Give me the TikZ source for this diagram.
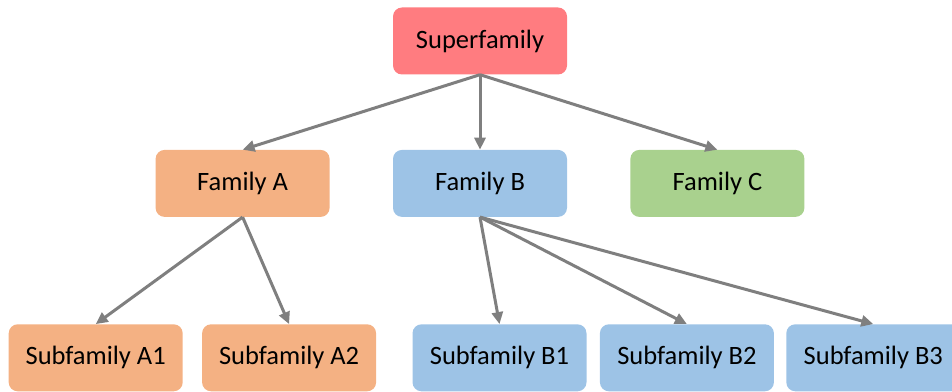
\documentclass[tikz,border=0pt]{standalone}
\usepackage{fontspec}
\setmainfont{Carlito}
\definecolor{mypink}{HTML}{FF7C80}
\definecolor{myorange}{HTML}{F4B183}
\definecolor{myblue}{HTML}{9DC3E6}
\definecolor{mygreen}{HTML}{A9D18E}
\definecolor{mygray}{HTML}{7F7F7F}
\usetikzlibrary{positioning,arrows.meta}

\begin{document}
\begin{tikzpicture}[x=1pt,y=1pt,
    every node/.style={rounded corners=9pt,minimum width=174pt,minimum height=67pt,
      inner sep=0pt,font=\fontsize{26.5}{30}\selectfont},
    supnode/.style={fill=mypink},
    anode/.style={fill=myorange},
    bnode/.style={fill=myblue},
    cnode/.style={fill=mygreen},
    arr/.style={draw=mygray,line width=3pt,-{Triangle[length=12pt,width=11pt]}}
    ]
    \useasboundingbox (0,0) rectangle (952,391);

    \node (sf) [supnode] at (480,350) {Superfamily};
    \node (fb) [bnode,below=75pt of sf] {Family B};
    \node (fa) [anode,left=63pt of fb] {Family A};
    \node (fc) [cnode,right=63pt of fb] {Family C};
    \node (sb1) [bnode,below=107pt of fb,xshift=19.5pt] {Subfamily B1};
    \node (sa2) [anode,left=36pt of sb1] {Subfamily A2};
    \node (sa1) [anode,left=19pt of sa2] {Subfamily A1};
    \node (sb2) [bnode,right=13pt of sb1] {Subfamily B2};
    \node (sb3) [bnode,right=12pt of sb2] {Subfamily B3};

    % the edges
    \draw[arr] (sf.south) -- (fa.north);
    \draw[arr] (sf.south) -- (fb.north);
    \draw[arr] (sf.south) -- (fc.north);
    \draw[arr] (fa.south) -- (sa1.north);
    \draw[arr] (fa.south) -- (sa2.north);
    \draw[arr] (fb.south) -- (sb1.north);
    \draw[arr] (fb.south) -- (sb2.north);
    \draw[arr] (fb.south) -- (sb3.north);
\end{tikzpicture}
\end{document}
